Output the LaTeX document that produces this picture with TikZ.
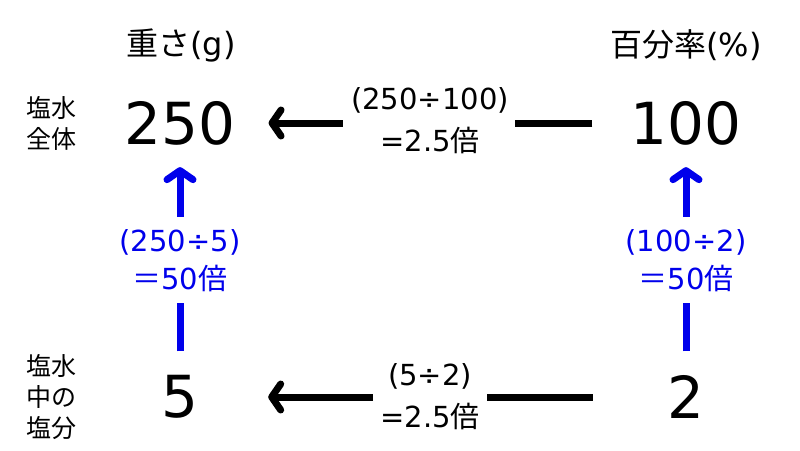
\documentclass[tikz,border=0pt]{standalone}
\usepackage{fontspec}
\setmainfont{DejaVu Sans}
\newfontfamily\jpfont{Noto Sans CJK JP}
\usetikzlibrary{arrows.meta}
\newcommand{\jt}[1]{{\jpfont #1}}
\definecolor{myblue}{RGB}{0,0,235}
\begin{document}
\begin{tikzpicture}[x=1pt,y=-1pt,
  num/.style={font=\fontsize{58}{60}\selectfont, inner sep=0pt, minimum width=110pt},
  head/.style={font=\fontsize{32}{34}\selectfont, inner sep=0pt},
  side/.style={font=\jpfont\fontsize{25}{31}\selectfont, align=center, inner sep=0pt},
  calc/.style={font=\fontsize{29}{42}\selectfont, align=center, inner sep=0pt},
  bcalc/.style={calc, text=myblue, font=\fontsize{29}{38}\selectfont},
  hline/.style={line width=7pt, line cap=butt},
  vline/.style={line width=7pt, line cap=butt, draw=myblue},
  tip/.style={-{Straight Barb[length=9pt,width=26pt,round]}}
]
\useasboundingbox (0,0) rectangle (800,450);
\node[head] (h1) at (181,45) {\jt{重さ}(g)};
\node[head] (h2) at (686,45) {\jt{百分率}(\%)};
\node[num] (n250) at (180,123) {250};
\node[num] (n100) at (686,123) {100};
\node[num] (n5) at (180,397) {5};
\node[num] (n2) at (686,397) {2};
\node[side] (s1) at (51,123) {塩水\\全体};
\node[side] (s2) at (51,397) {塩水\\中の\\塩分};
\node[calc] (tl) at (430,121) {(250÷100)\\=2.5\jt{倍}};
\node[calc] (bt) at (430,397) {(5÷2)\\=2.5\jt{倍}};
\node[bcalc] (lb) at (180,261) {(250÷5)\\\jt{＝}50\jt{倍}};
\node[bcalc] (rb) at (686,261) {(100÷2)\\\jt{＝}50\jt{倍}};
% horizontal
\draw[hline, shorten <=38pt, shorten >=6pt] (n100.west) -- (n100.west -| tl.east);
\draw[hline, tip, shorten <=8pt, shorten >=33pt] (n250.east -| tl.west) -- (n250.east);
\draw[hline, shorten <=38pt, shorten >=7pt] (n2.west) -- (n2.west -| bt.east);
\draw[hline, tip, shorten <=7pt, shorten >=33pt] (n5.east -| bt.west) -- (n5.east);
% vertical
\draw[vline, shorten <=24pt, shorten >=11pt] (n5.north) -- (lb.south);
\draw[vline, tip, shorten <=13pt, shorten >=22pt] (lb.north) -- (n250.south);
\draw[vline, shorten <=24pt, shorten >=11pt] (n2.north) -- (rb.south);
\draw[vline, tip, shorten <=13pt, shorten >=22pt] (rb.north) -- (n100.south);
\end{tikzpicture}
\end{document}
